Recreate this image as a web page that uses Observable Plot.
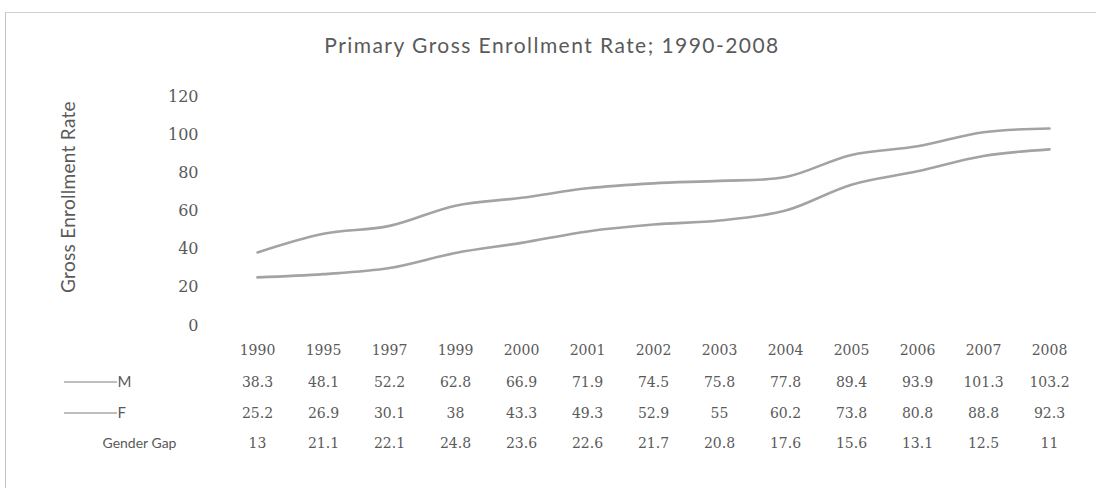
<!DOCTYPE html>
<html><head><meta charset="utf-8">
<script src="https://cdn.jsdelivr.net/npm/d3@7"></script>
<script src="https://cdn.jsdelivr.net/npm/@observablehq/plot@0.6"></script>
<style>
body{margin:0;background:#fff;}
#wrap{position:relative;width:1096px;height:488px;overflow:hidden;background:#fff;}
#frame{position:absolute;left:5px;top:12px;width:1100px;height:490px;border-left:1.5px solid #c4c4c4;border-top:1.5px solid #d0d0d0;pointer-events:none;}
#wrap svg{position:absolute;left:0;top:0;}
.title-mark text{letter-spacing:1.45px;}
.ylabel-mark text{letter-spacing:0.3px;}
</style></head><body><div id="wrap"><div id="frame"></div></div>
<script>
const years = ["1990","1995","1997","1999","2000","2001","2002","2003","2004","2005","2006","2007","2008"];
const male = [38.3,48.1,52.2,62.8,66.9,71.9,74.5,75.8,77.8,89.4,93.9,101.3,103.2];
const female = [25.2,26.9,30.1,38,43.3,49.3,52.9,55,60.2,73.8,80.8,88.8,92.3];
const gap = [13,21.1,22.1,24.8,23.6,22.6,21.7,20.8,17.6,15.6,13.1,12.5,11];
const yTicks = [0,20,40,60,80,100,120];
const seriesNames = ["M","F"];
const gapLabel = "Gender Gap";
const title = "Primary Gross Enrollment Rate; 1990-2008";
const yLabel = "Gross Enrollment Rate";

const rows = [];
years.forEach((y,i)=>{
  rows.push({year:y, series:"M", value:male[i]});
  rows.push({year:y, series:"F", value:female[i]});
});
const gapRows = years.map((y,i)=>({year:y, value:gap[i]}));

const serif = "'DejaVu Serif', serif";
const sans = "Lato, 'Open Sans', sans-serif";
const grey = "#5a5a5a";
const rowOffset = {year:25, M:57, F:88, gap:118};

const tableText = (data, opts) => Plot.text(data, Object.assign({frameAnchor:"bottom", lineAnchor:"middle", textAnchor:"middle", fontSize:14, fill:grey}, opts));
const rowLabel = (label, off, opts) => Plot.text([label], Object.assign({text:d=>d, frameAnchor:"bottom-left", textAnchor:"start", lineAnchor:"middle", dy:off, fontSize:15, fontFamily:sans, fill:grey}, opts));

const chart = Plot.plot({
  width:1096, height:488,
  marginTop:96, marginBottom:163, marginLeft:253, marginRight:44,
  style:{background:"transparent", color:grey, fontFamily:serif},
  x:{type:"point", domain:years, padding:0, axis:null},
  y:{domain:[0,120]},
  marks:[
    Plot.axisY({ticks:yTicks, tickSize:0, tickPadding:55, label:null, fontSize:16, fill:grey}),
    Plot.line(rows, {x:"year", y:"value", z:"series", stroke:"#a3a3a3", strokeWidth:2.6, curve:"catmull-rom"}),
    Plot.text([title], {text:d=>d, className:"title-mark", frameAnchor:"top", textAnchor:"middle", lineAnchor:"middle", dx:-101, dy:-50, fontSize:21, fontFamily:sans, fill:grey}),
    Plot.text([yLabel], {text:d=>d, className:"ylabel-mark", frameAnchor:"left", textAnchor:"middle", lineAnchor:"middle", rotate:-90, dx:-185, dy:-14, fontSize:19, fontFamily:sans, fill:grey}),
    tableText(years, {x:d=>d, text:d=>d, dy:rowOffset.year}),
    tableText(rows.filter(d=>d.series==="M"), {x:"year", text:d=>String(d.value), dy:rowOffset.M}),
    tableText(rows.filter(d=>d.series==="F"), {x:"year", text:d=>String(d.value), dy:rowOffset.F}),
    tableText(gapRows, {x:"year", text:d=>String(d.value), dy:rowOffset.gap}),
    rowLabel(seriesNames[0], rowOffset.M, {dx:-136}),
    rowLabel(seriesNames[1], rowOffset.F, {dx:-136}),
    rowLabel(gapLabel, rowOffset.gap, {dx:-151, fontSize:14})
  ]
});
document.getElementById("wrap").appendChild(chart);

// legend swatches, placed next to the series row labels
const svg = d3.select(chart);
const xScale = chart.scale("x");
const yScale = chart.scale("y");
const baseY = yScale.apply(0);
const left = xScale.apply(years[0]);
[rowOffset.M, rowOffset.F].forEach(off=>{
  svg.append("line")
    .attr("x1", left-193).attr("x2", left-140)
    .attr("y1", baseY+off).attr("y2", baseY+off)
    .attr("stroke","#a8a8a8").attr("stroke-width",1.6);
});
</script></body></html>
